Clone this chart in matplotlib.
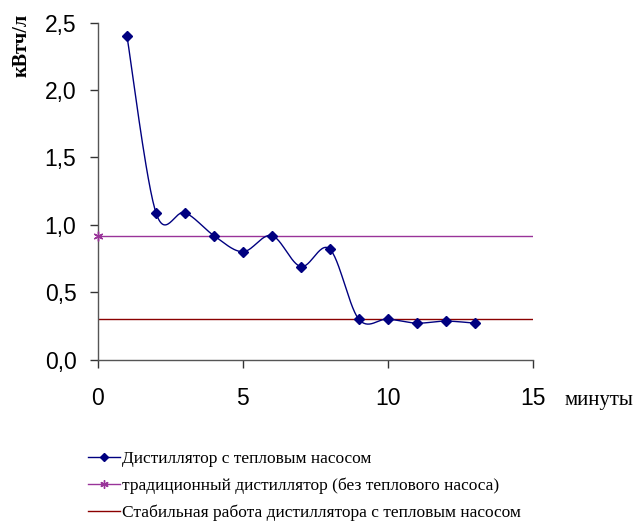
import numpy as np
import matplotlib
matplotlib.use("Agg")
import matplotlib.pyplot as plt
from matplotlib.lines import Line2D

# data
minutes = [1, 2, 3, 4, 5, 6, 7, 8, 9, 10, 11, 12, 13]
kwh_hp = [2.40, 1.09, 1.09, 0.92, 0.80, 0.92, 0.69, 0.82, 0.30, 0.30, 0.27, 0.285, 0.27]
trad_x = [0]
trad_y = [0.92]
stable_level = 0.30
x_ticks = [0, 5, 10, 15]
y_ticks = [0.0, 0.5, 1.0, 1.5, 2.0, 2.5]
labels = ["Дистиллятор с тепловым насосом",
          "традиционный дистиллятор (без теплового насоса)",
          "Стабильная работа дистиллятора с тепловым насосом"]

NAVY = "#000080"
PURPLE = "#993399"
DRED = "#8B0000"


def excel_smooth(x, y, n=30):
    x = np.asarray(x, float); y = np.asarray(y, float)
    P = np.column_stack([x, y])
    Pp = np.vstack([P[0], P, P[-1]])
    out = []
    for i in range(len(P) - 1):
        p0, p1, p2, p3 = Pp[i], Pp[i + 1], Pp[i + 2], Pp[i + 3]
        c1 = p1 + (p2 - p0) / 6.0
        c2 = p2 - (p3 - p1) / 6.0
        t = np.linspace(0, 1, n)[:, None]
        seg = ((1 - t) ** 3) * p1 + 3 * ((1 - t) ** 2) * t * c1 + 3 * (1 - t) * t ** 2 * c2 + t ** 3 * p2
        out.append(seg if i == 0 else seg[1:])
    s = np.vstack(out)
    return s[:, 0], s[:, 1]


fig = plt.figure(figsize=(6.35, 5.23), dpi=100)
ax = fig.add_axes([98 / 635, 1 - 359.5 / 523, (532.5 - 98) / 635, (359.5 - 22.7) / 523])

sx, sy = excel_smooth(minutes, kwh_hp)
ax.plot(sx, sy, color=NAVY, lw=1.0, zorder=3)
ax.plot(minutes, kwh_hp, ls="none", marker="D", ms=4.8, color=NAVY, zorder=4)

ax.plot([0, 15], [trad_y[0], trad_y[0]], color=PURPLE, lw=1.0, zorder=2)
ax.plot(trad_x, trad_y, ls="none", marker=(6, 2, 0), ms=7, mew=1.0, color=PURPLE, zorder=4, clip_on=False)
ax.plot([0, 15], [stable_level, stable_level], color=DRED, lw=1.0, zorder=2)

ax.set_xlim(0, 15)
ax.set_ylim(0, 2.5)
ax.set_xticks(x_ticks)
ax.set_yticks(y_ticks)
ax.set_xticklabels([str(v) for v in x_ticks], fontfamily="Liberation Sans", fontsize=16.5)
ax.set_yticklabels([f"{v:.1f}".replace(".", ",") for v in y_ticks], fontfamily="Liberation Sans", fontsize=16.5)
for s in ["top", "right"]:
    ax.spines[s].set_visible(False)
for s in ["left", "bottom"]:
    ax.spines[s].set_color("#555555")
    ax.spines[s].set_linewidth(1.0)
ax.tick_params(axis="both", direction="out", length=6, width=1.0, color="#333333")
ax.tick_params(axis="x", pad=14)
ax.tick_params(axis="y", pad=9.5)

fig.text(22 / 635, 1 - 45 / 523, "кВтч/л", rotation=90, ha="center", va="center",
         fontfamily="Liberation Serif", fontweight="bold", fontsize=14.5)
fig.text(565 / 635, 1 - 405 / 523, "минуты", ha="left", va="baseline",
         fontfamily="Liberation Serif", fontsize=15)

handles = [
    Line2D([], [], color=NAVY, lw=1.0, marker="D", ms=4.5),
    Line2D([], [], color=PURPLE, lw=1.0, marker=(6, 2, 0), ms=6),
    Line2D([], [], color=DRED, lw=1.0),
]
fig.legend(handles, labels, loc="upper left", bbox_to_anchor=(88 / 635, 1 - 451 / 523),
           frameon=False, borderpad=0, borderaxespad=0, handlelength=1.85, handletextpad=0.12,
           labelspacing=0.6, prop={"family": "Liberation Serif", "size": 12.5})

fig.savefig("out.png", dpi=100)
